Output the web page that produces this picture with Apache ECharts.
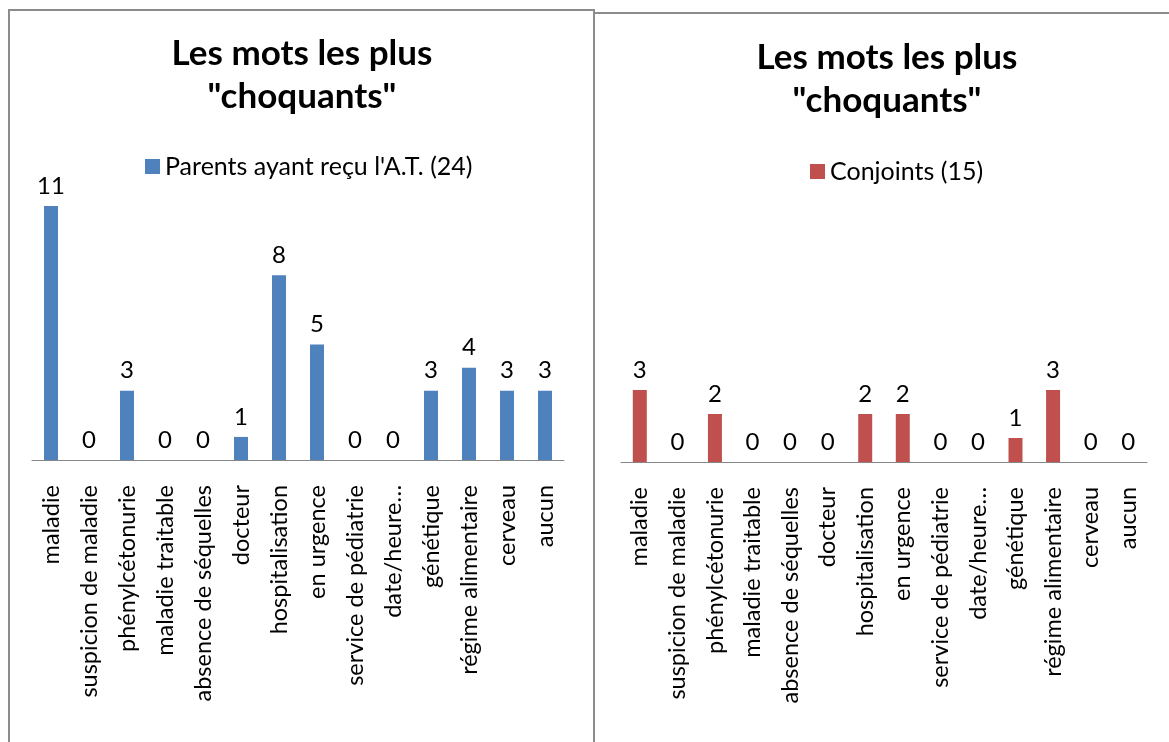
<!DOCTYPE html>
<html>
<head>
<meta charset="utf-8">
<style>
  html, body { margin: 0; padding: 0; background: #fff; }
  #chart { width: 1169px; height: 742px; }
</style>
<script src="https://cdn.jsdelivr.net/npm/echarts@6/dist/echarts.min.js"></script>
</head>
<body>
<div id="chart"></div>
<script>
// mots les plus "choquants"
const categories = ['maladie', 'suspicion de maladie', 'phénylcétonurie', 'maladie traitable',
    'absence de séquelles', 'docteur', 'hospitalisation', 'en urgence', 'service de pédiatrie',
    'date/heure…', 'génétique', 'régime alimentaire', 'cerveau', 'aucun'];
const parentsValues = [11, 0, 3, 0, 0, 1, 8, 5, 0, 0, 3, 4, 3, 3];
const conjointsValues = [3, 0, 2, 0, 0, 0, 2, 2, 0, 0, 1, 3, 0, 0];
const parentsName = "Parents ayant reçu l'A.T. (24)";
const conjointsName = 'Conjoints (15)';
const titleText = 'Les mots les plus\n"choquants"';

const FONT = 'Lato, "Open Sans", sans-serif';

let chart = echarts.init(document.getElementById('chart'));

function xAxisFor(idx) {
    return {
        type: 'category',
        gridIndex: idx,
        data: categories,
        axisTick: { show: false },
        axisLine: { lineStyle: { color: '#868686', width: 1 } },
        axisLabel: {
            interval: 0,
            rotate: 90,
            margin: 25,
            fontSize: 23.5,
            fontFamily: FONT,
            color: '#000'
        }
    };
}

function yAxisFor(idx, max) {
    return {
        type: 'value',
        gridIndex: idx,
        min: 0,
        max: max,
        show: false
    };
}

function barSeries(name, data, idx, color) {
    return {
        name: name,
        type: 'bar',
        xAxisIndex: idx,
        yAxisIndex: idx,
        data: data,
        barWidth: 14,
        itemStyle: { color: color },
        label: {
            show: true,
            position: 'top',
            distance: 8,
            fontSize: 24,
            fontFamily: FONT,
            color: '#000'
        }
    };
}

let option = {
    animation: false,
    textStyle: { fontFamily: FONT },
    grid: [
        { left: 32, width: 532, top: 206, bottom: 282 },
        { left: 621, width: 526, top: 390, bottom: 280 }
    ],
    legend: [
        {
            data: [parentsName],
            left: 140, top: 149,
            itemWidth: 15, itemHeight: 15, itemGap: 6,
            icon: 'rect',
            textStyle: { fontSize: 25, fontFamily: FONT, color: '#000' }
        },
        {
            data: [conjointsName],
            left: 805, top: 154,
            itemWidth: 15, itemHeight: 15, itemGap: 6,
            icon: 'rect',
            textStyle: { fontSize: 25, fontFamily: FONT, color: '#000' }
        }
    ],
    xAxis: [xAxisFor(0), xAxisFor(1)],
    yAxis: [yAxisFor(0, 11), yAxisFor(1, 3)],
    series: [
        barSeries(parentsName, parentsValues, 0, '#4f81bd'),
        barSeries(conjointsName, conjointsValues, 1, '#c0504d')
    ],
    graphic: [
        // cadres des deux graphiques
        {
            type: 'polyline',
            shape: { points: [[9, 745], [9, 10], [594, 10], [594, 745]] },
            style: { stroke: '#8c8c8c', lineWidth: 2, fill: null }
        },
        {
            type: 'polyline',
            shape: { points: [[594, 13], [1172, 13]] },
            style: { stroke: '#8c8c8c', lineWidth: 2, fill: null }
        },
        {
            type: 'text',
            x: 302, y: 32,
            style: {
                text: titleText, align: 'center', lineHeight: 43,
                font: 'bold 35px ' + FONT, fill: '#000'
            }
        },
        {
            type: 'text',
            x: 887, y: 36,
            style: {
                text: titleText, align: 'center', lineHeight: 43,
                font: 'bold 35px ' + FONT, fill: '#000'
            }
        }
    ]
};

chart.setOption(option);
</script>
</body>
</html>
